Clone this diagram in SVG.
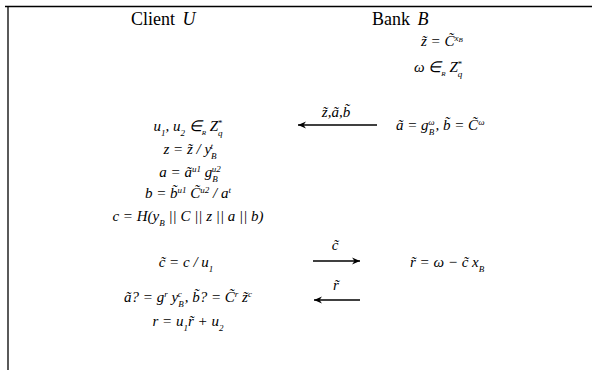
<svg xmlns="http://www.w3.org/2000/svg" width="592" height="370" viewBox="0 0 592 370">
<style>
.t{font-family:"Liberation Serif","Times New Roman",serif;font-size:15px;fill:#000}
.h{font-size:18px}
.i{font-style:italic}
.s{font-size:9px}
.ss{font-size:7px}
.ln{stroke:#000;stroke-width:1.3;fill:none}
</style>
<defs>
<marker id="ah" markerWidth="10" markerHeight="8" refX="8" refY="4" orient="auto" markerUnits="userSpaceOnUse">
<path d="M0,0.5 L8,4 L0,7.5 L2.5,4 Z" fill="#000"/>
</marker>
</defs>
<rect width="592" height="370" fill="#fff"/>
<g id="frame">
<line x1="5" y1="6.5" x2="592" y2="6.5" class="ln" stroke-width="1.6"/>
<line x1="8" y1="6" x2="8" y2="370" class="ln" stroke-width="1.6"/>
</g>
<g id="client-header"><text class="t h" x="131" y="25">Client <tspan class="i" dx="3">U</tspan></text></g>
<g id="bank-header"><text class="t h" x="372" y="25">Bank <tspan class="i" dx="3">B</tspan></text></g>
<g id="bank-steps">
<text class="t i" x="421" y="46">z̃ = C̃<tspan class="s" baseline-shift="super">x</tspan><tspan class="ss" baseline-shift="super">B</tspan></text>
<text class="t i" x="414" y="72">ω ∈<tspan class="ss" baseline-shift="sub">R</tspan> Z<tspan class="s" baseline-shift="sub">q</tspan><tspan class="s" dx="-5" baseline-shift="super">*</tspan></text>
<text class="t i" x="396" y="130">ã = g<tspan class="s" baseline-shift="sub">B</tspan><tspan class="s" dx="-6" baseline-shift="super">ω</tspan><tspan dx="1">,</tspan> b̃ = C̃<tspan class="s" baseline-shift="super">ω</tspan></text>
<text class="t i" x="410" y="267">r̃ = ω − c̃ x<tspan class="s" baseline-shift="sub">B</tspan></text>
</g>
<g id="client-steps" text-anchor="middle">
<text class="t i" x="188" y="131">u<tspan class="s" baseline-shift="sub">1</tspan>, u<tspan class="s" baseline-shift="sub">2</tspan> ∈<tspan class="ss" baseline-shift="sub">R</tspan> Z<tspan class="s" baseline-shift="sub">q</tspan><tspan class="s" dx="-5" baseline-shift="super">*</tspan></text>
<text class="t i" x="190" y="154">z = z̃ / y<tspan class="s" baseline-shift="sub">B</tspan><tspan class="s" dx="-6" baseline-shift="super">t</tspan></text>
<text class="t i" x="190" y="177">a = ã<tspan class="s" baseline-shift="super">u1</tspan> g<tspan class="s" baseline-shift="sub">B</tspan><tspan class="s" dx="-6" baseline-shift="super">u2</tspan></text>
<text class="t i" x="188" y="198">b = b̃<tspan class="s" baseline-shift="super">u1</tspan> C̃<tspan class="s" baseline-shift="super">u2</tspan> / a<tspan class="s" baseline-shift="super">t</tspan></text>
<text class="t i" x="188" y="221">c = H(y<tspan class="s" baseline-shift="sub">B</tspan> || C || z || a || b)</text>
<text class="t i" x="186" y="267">c̃ = c / u<tspan class="s" baseline-shift="sub">1</tspan></text>
<text class="t i" x="188" y="302">ã? = g<tspan class="s" baseline-shift="super">r</tspan> y<tspan class="s" baseline-shift="sub">B</tspan><tspan class="s" dx="-6" baseline-shift="super">c</tspan><tspan dx="3">,</tspan> b̃? = C̃<tspan class="s" baseline-shift="super">r</tspan> z̃<tspan class="s" baseline-shift="super">c</tspan></text>
<text class="t i" x="188" y="326">r = u<tspan class="s" baseline-shift="sub">1</tspan>r̃ + u<tspan class="s" baseline-shift="sub">2</tspan></text>
</g>
<g id="connectors">
<line x1="377" y1="125" x2="298" y2="125" class="ln" marker-end="url(#ah)"/>
<line x1="313" y1="261" x2="360" y2="261" class="ln" marker-end="url(#ah)"/>
<line x1="360" y1="300" x2="314" y2="300" class="ln" marker-end="url(#ah)"/>
<g text-anchor="middle">
<text class="t i" x="336" y="117">z̃,ã,b̃</text>
<text class="t i" x="335" y="250">c̃</text>
<text class="t i" x="336" y="290">r̃</text>
</g>
</g>
</svg>
